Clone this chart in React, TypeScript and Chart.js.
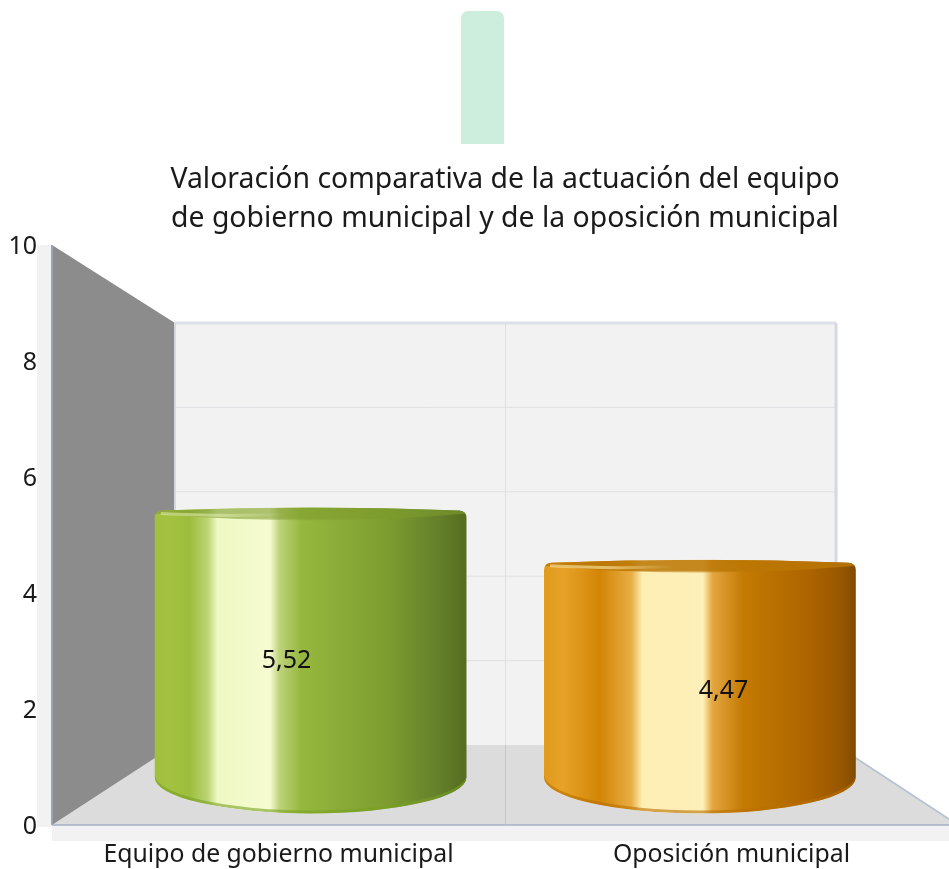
import React, { useEffect, useRef } from "react";
import { Chart, registerables } from "chart.js";

Chart.register(...registerables);

const categories = ["Equipo de gobierno municipal", "Oposición municipal"];
const values = [5.52, 4.47];
const valueLabels = ["5,52", "4,47"];
const titleLines = [
  "Valoración comparativa de la actuación del equipo",
  "de gobierno municipal y de la oposición municipal",
];
const baseColors = ["#8fb13a", "#c67d04"];

const FONT = "'Noto Sans', sans-serif";

const barStops: [number, string][][] = [
  [
    [0, "#a2c03f"], [0.04, "#a4c240"], [0.11, "#9dbd3d"], [0.17, "#bbd474"], [0.2, "#eef8c2"],
    [0.37, "#f6fbd2"], [0.4, "#bdd37a"], [0.47, "#96b83e"], [0.75, "#7c9c2f"], [0.91, "#64802a"], [1, "#566c1f"],
  ],
  [
    [0, "#e09a1c"], [0.06, "#e6a328"], [0.18, "#d38505"], [0.28, "#e8ad44"], [0.315, "#fdeeb4"],
    [0.51, "#fdf0b8"], [0.54, "#e4a640"], [0.64, "#c47a02"], [0.85, "#ad6400"], [0.96, "#965600"], [1, "#7f4a00"],
  ],
];
const lipColors = ["rgba(125,155,45,0.6)", "rgba(186,118,4,0.85)"];
const rimColors = ["rgba(120,160,35,0.6)", "rgba(185,110,0,0.6)"];
const streakColors = ["rgba(235,245,190,0.5)", "rgba(255,235,170,0.6)"];

// Oblique depth mapping: t=0 is the front plane of the axes, t=1 the back wall.
const BACK = { left: 175, right: 836, top: 323, bottom: 745 };
const BAR_DEPTH = 0.52;
const LABEL_DEPTH = 0.13;
function project(chart: any, x: number, y: number, t: number) {
  const a = chart.chartArea;
  const bx = BACK.left + ((x - a.left) * (BACK.right - BACK.left)) / (a.right - a.left);
  const by = BACK.top + ((y - a.top) * (BACK.bottom - BACK.top)) / (a.bottom - a.top);
  return { x: x + (bx - x) * t, y: y + (by - y) * t };
}

function poly(ctx: CanvasRenderingContext2D, pts: { x: number; y: number }[], fill: string) {
  ctx.beginPath();
  pts.forEach((p, i) => (i ? ctx.lineTo(p.x, p.y) : ctx.moveTo(p.x, p.y)));
  ctx.closePath();
  ctx.fillStyle = fill;
  ctx.fill();
}
function seg(ctx: CanvasRenderingContext2D, a: any, b: any, color: string, w = 1) {
  ctx.beginPath();
  ctx.moveTo(a.x, a.y);
  ctx.lineTo(b.x, b.y);
  ctx.strokeStyle = color;
  ctx.lineWidth = w;
  ctx.stroke();
}

const scenePlugin = {
  id: "scene",
  beforeDatasetsDraw(chart: any) {
    const { ctx, chartArea: a, scales } = chart;
    const fl = { x: a.left, y: a.bottom };
    const fr = { x: a.right, y: a.bottom };
    const tl = { x: a.left, y: a.top };
    const bl = project(chart, a.left, a.bottom, 1);
    const br = project(chart, a.right, a.bottom, 1);
    const bt = project(chart, a.left, a.top, 1);
    const btr = project(chart, a.right, a.top, 1);
    ctx.save();
    ctx.fillStyle = "#f2f2f2";
    ctx.fillRect(a.left - 15, a.top, 15, a.bottom - a.top + 2);
    ctx.fillRect(a.left, a.bottom, a.right - a.left, 16);
    poly(ctx, [bt, btr, br, bl], "#f2f2f2");
    poly(ctx, [fl, bl, br, fr], "#dcdcdc");
    poly(ctx, [tl, bt, bl, fl], "#8c8c8c");
    scales.y.ticks.forEach((tk: any) => {
      if (tk.value <= 0 || tk.value >= 10) return;
      const py = scales.y.getPixelForValue(tk.value);
      seg(ctx, project(chart, a.left, py, 1), project(chart, a.right, py, 1), "#e0e1e4", 1);
    });
    const midX = (scales.x.getPixelForValue(0) + scales.x.getPixelForValue(1)) / 2;
    const midBack = project(chart, midX, a.bottom, 1);
    seg(ctx, project(chart, midX, a.top, 1), midBack, "#dedfe2", 1);
    seg(ctx, midBack, { x: midBack.x, y: a.bottom }, "#c6c8cb", 1);
    seg(ctx, bt, btr, "#dde0e8", 3);
    seg(ctx, btr, br, "#d2d9e6", 3);
    seg(ctx, bt, bl, "#d5d8de", 2);
    seg(ctx, tl, fl, "#9aa3b3", 2);
    seg(ctx, fl, fr, "#a6b2c6", 1.5);
    seg(ctx, br, fr, "#b6c1d4", 1.5);
    ctx.restore();
  },
  beforeDatasetDraw(chart: any) {
    const { ctx } = chart;
    const bars = chart.getDatasetMeta(0).data;
    bars.forEach((bar: any, i: number) => {
      const w = bar.width * 0.866;
      const top = project(chart, bar.x, bar.y, BAR_DEPTH);
      const base = project(chart, bar.x, bar.base, BAR_DEPTH);
      const L = top.x - w / 2;
      const R = top.x + w / 2;
      const T = top.y - 1;
      const ry = 36;
      const sideEnd = base.y - 6;
      const shape = () => {
        ctx.beginPath();
        ctx.moveTo(L, T + 10);
        ctx.quadraticCurveTo(L, T + 4, L + 7, T + 3);
        ctx.quadraticCurveTo(top.x, T - 3, R - 7, T + 3);
        ctx.quadraticCurveTo(R, T + 4, R, T + 10);
        ctx.lineTo(R, sideEnd);
        ctx.ellipse(top.x, sideEnd, w / 2, ry, 0, 0, Math.PI);
        ctx.closePath();
      };
      ctx.save();
      const g = ctx.createLinearGradient(L, 0, R, 0);
      barStops[i].forEach(([p, c]) => g.addColorStop(p, c));
      shape();
      ctx.fillStyle = g;
      ctx.fill();
      ctx.clip();
      // lip of the top disc, fading downward
      const lip = ctx.createLinearGradient(0, T, 0, T + 14);
      lip.addColorStop(0, lipColors[i]);
      lip.addColorStop(0.75, lipColors[i]);
      lip.addColorStop(1, lipColors[i].replace(/[\d.]+\)$/, "0)"));
      ctx.beginPath();
      ctx.moveTo(L, T);
      ctx.lineTo(R, T);
      ctx.lineTo(R, T + 6);
      ctx.quadraticCurveTo(top.x, T + 20, L, T + 6);
      ctx.closePath();
      ctx.fillStyle = lip;
      ctx.fill();
      // soft highlight streak on the lip
      const st = ctx.createLinearGradient(L, 0, L + 130, 0);
      st.addColorStop(0, streakColors[i]);
      st.addColorStop(0.5, streakColors[i]);
      st.addColorStop(1, streakColors[i].replace(/[\d.]+\)$/, "0)"));
      ctx.beginPath();
      ctx.moveTo(L + 6, T + 6);
      ctx.quadraticCurveTo(L + 60, T + 9, L + 130, T + 7);
      ctx.strokeStyle = st;
      ctx.lineWidth = 3;
      ctx.stroke();
      // slightly darker rim at the foot
      ctx.beginPath();
      ctx.ellipse(top.x, sideEnd, w / 2, ry, 0, 0, Math.PI);
      ctx.ellipse(top.x, sideEnd - 3, w / 2, ry, 0, Math.PI, 0, true);
      ctx.closePath();
      ctx.fillStyle = rimColors[i];
      ctx.fill();
      ctx.restore();
    });
    return false;
  },
  afterDatasetsDraw(chart: any) {
    const { ctx } = chart;
    const bars = chart.getDatasetMeta(0).data;
    ctx.save();
    ctx.font = `25px ${FONT}`;
    ctx.fillStyle = "#111";
    ctx.textAlign = "center";
    ctx.textBaseline = "middle";
    bars.forEach((bar: any, i: number) => {
      const p = project(chart, bar.x, (bar.y + bar.base) / 2, LABEL_DEPTH);
      ctx.fillText(valueLabels[i], p.x, p.y + 1);
    });
    ctx.restore();
  },
  afterDraw(chart: any) {
    const { ctx } = chart;
    ctx.save();
    ctx.beginPath();
    ctx.roundRect(461, 11, 43, 133, [7, 7, 0, 0]);
    ctx.fillStyle = "#cdeddd";
    ctx.fill();
    ctx.restore();
  },
};

export default function App() {
  const ref = useRef<HTMLCanvasElement>(null);
  useEffect(() => {
    const chart = new Chart(ref.current!, {
      type: "bar",
      data: {
        labels: categories,
        datasets: [{ data: values, backgroundColor: baseColors, barThickness: 360 }],
      },
      options: {
        animation: false,
        responsive: false,
        layout: { padding: { top: 160, right: 0, left: 0, bottom: 0 } },
        plugins: {
          legend: { display: false },
          tooltip: { enabled: false },
          title: {
            display: true,
            fullSize: false,
            text: titleLines,
            color: "#1a1a1a",
            font: { family: FONT, size: 28.4, weight: "normal", lineHeight: 1.38 },
            padding: { top: 0, bottom: 6.6 },
          },
        },
        scales: {
          x: {
            grid: { display: false },
            border: { display: false },
            ticks: {
              color: "#1a1a1a",
              font: { family: FONT, size: 24.8 },
              padding: 7,
              maxRotation: 0,
              autoSkip: false,
            },
            afterFit(s: any) {
              s.height = 44;
            },
          },
          y: {
            min: 0,
            max: 10,
            grid: { display: false, drawTicks: false },
            border: { display: false },
            ticks: {
              stepSize: 2,
              color: "#1a1a1a",
              font: { family: FONT, size: 25 },
              padding: 15,
              labelOffset: 2,
            },
            afterFit(s: any) {
              s.width = 52;
            },
          },
        },
      },
      plugins: [scenePlugin],
    } as any);
    return () => chart.destroy();
  }, []);
  return (
    <div style={{ position: "absolute", left: 0, top: 0, width: 949, height: 869, overflow: "hidden", background: "#fff" }}>
      <canvas ref={ref} width={958} height={869} style={{ display: "block" }} />
    </div>
  );
}
